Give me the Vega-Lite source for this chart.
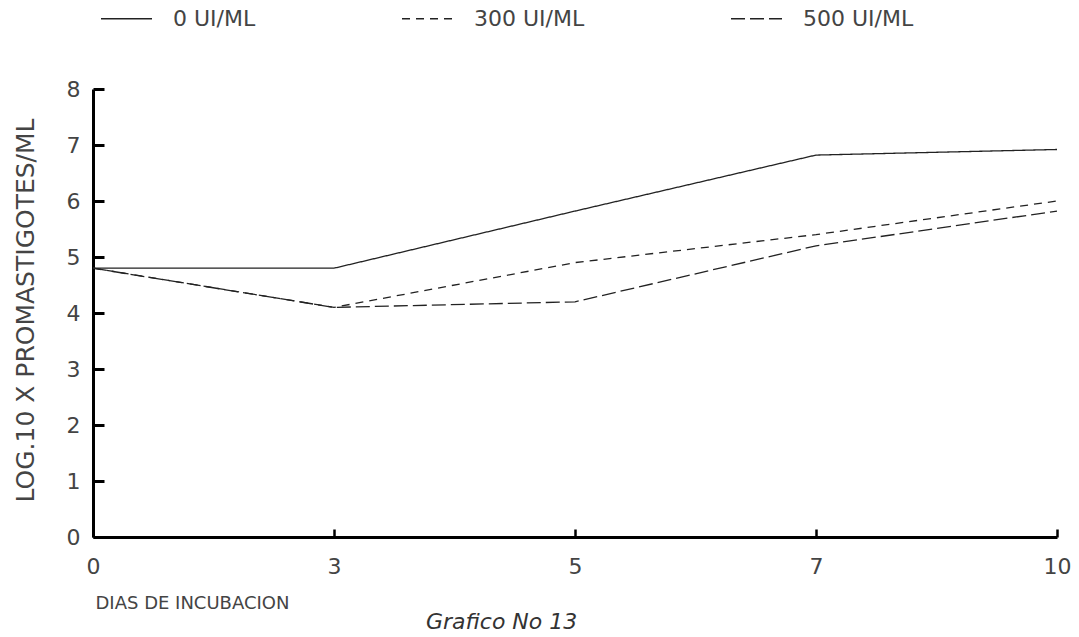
{
  "$schema": "https://vega.github.io/schema/vega-lite/v6.json",
  "autosize": {"type": "none"},
  "width": 964,
  "height": 448,
  "padding": {"left": 93, "top": 89, "right": 22, "bottom": 100},
  "background": "white",
  "config": {
    "view": {"stroke": null},
    "font": "DejaVu Sans",
    "text": {"font": "DejaVu Sans"}
  },
  "title": {
    "text": "Grafico No 13",
    "orient": "bottom",
    "anchor": "start",
    "dx": 413,
    "offset": 0,
    "font": "DejaVu Sans",
    "fontStyle": "italic",
    "fontWeight": "normal",
    "fontSize": 22,
    "color": "#333"
  },
  "data": {
    "values": [
      {"dia": "0", "serie": "0 UI/ML", "valor": 4.8},
      {"dia": "3", "serie": "0 UI/ML", "valor": 4.8},
      {"dia": "5", "serie": "0 UI/ML", "valor": 5.82},
      {"dia": "7", "serie": "0 UI/ML", "valor": 6.82},
      {"dia": "10", "serie": "0 UI/ML", "valor": 6.92},
      {"dia": "0", "serie": "300 UI/ML", "valor": 4.8},
      {"dia": "3", "serie": "300 UI/ML", "valor": 4.1},
      {"dia": "5", "serie": "300 UI/ML", "valor": 4.9},
      {"dia": "7", "serie": "300 UI/ML", "valor": 5.4},
      {"dia": "10", "serie": "300 UI/ML", "valor": 6.0},
      {"dia": "0", "serie": "500 UI/ML", "valor": 4.8},
      {"dia": "3", "serie": "500 UI/ML", "valor": 4.1},
      {"dia": "5", "serie": "500 UI/ML", "valor": 4.2},
      {"dia": "7", "serie": "500 UI/ML", "valor": 5.2},
      {"dia": "10", "serie": "500 UI/ML", "valor": 5.82}
    ]
  },
  "mark": {"type": "line", "strokeWidth": 1.3, "color": "#222"},
  "encoding": {
    "x": {
      "field": "dia",
      "type": "ordinal",
      "sort": ["0", "3", "5", "7", "10"],
      "scale": {"type": "point", "padding": 0},
      "axis": {
        "title": "DIAS DE INCUBACION",
        "labelAngle": 0,
        "domainColor": "#000",
        "domainWidth": 3,
        "tickColor": "#000",
        "tickWidth": 2.5,
        "tickSize": -8,
        "labelPadding": 27,
        "labelFontSize": 22,
        "labelColor": "#444",
        "labelBaseline": "top",
        "titleFontSize": 18,
        "titleFontWeight": "normal",
        "titleColor": "#444",
        "titleAnchor": "start",
        "titleAlign": "left",
        "titleX": 2,
        "titleY": 66,
        "titleBaseline": "middle"
      }
    },
    "y": {
      "field": "valor",
      "type": "quantitative",
      "scale": {"domain": [0, 8], "nice": false},
      "axis": {
        "title": "LOG.10 X PROMASTIGOTES/ML",
        "values": [0, 1, 2, 3, 4, 5, 6, 7, 8],
        "grid": false,
        "domainColor": "#000",
        "domainWidth": 3,
        "tickColor": "#000",
        "tickWidth": 3,
        "tickSize": -11,
        "labelPadding": 24,
        "labelFontSize": 22,
        "labelColor": "#444",
        "titleFontSize": 25,
        "titleFontWeight": "normal",
        "titleColor": "#444",
        "titleX": -68,
        "titleY": 221,
        "titleAngle": -90,
        "titleAlign": "center",
        "titleBaseline": "middle"
      }
    },
    "strokeDash": {
      "field": "serie",
      "type": "nominal",
      "scale": {
        "domain": ["0 UI/ML", "300 UI/ML", "500 UI/ML"],
        "range": [[1, 0], [8, 6], [14, 5]]
      },
      "legend": {
        "title": null,
        "orient": "none",
        "direction": "horizontal",
        "legendX": 7,
        "legendY": -97,
        "symbolType": "stroke",
        "symbolSize": 2600,
        "symbolStrokeWidth": 1.5,
        "symbolStrokeColor": "#222",
        "labelOffset": 20,
        "labelFontSize": 22,
        "labelColor": "#444",
        "columnPadding": 143
      }
    }
  }
}
